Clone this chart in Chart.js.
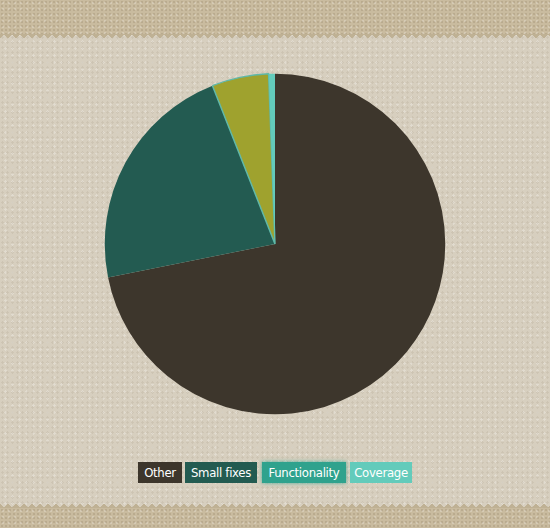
<!DOCTYPE html>
<html><head><meta charset="utf-8">
<script src="https://cdn.jsdelivr.net/npm/chart.js@4.4.0/dist/chart.umd.min.js"></script>
<style>
html,body{margin:0;padding:0;}
body{width:550px;height:528px;overflow:hidden;position:relative;background:#d7cfbf;
 background-image:radial-gradient(rgba(120,100,70,0.10) 1px, transparent 1.2px),radial-gradient(rgba(255,255,255,0.25) 1px, transparent 1.2px);
 background-size:5px 5px,7px 7px;background-position:0 0,2px 3px;}
.band{position:absolute;left:0;width:550px;background:#c9bb9f;
 background-image:radial-gradient(rgba(90,70,40,0.14) 1px, transparent 1.3px),radial-gradient(rgba(255,255,255,0.22) 1px, transparent 1.3px);
 background-size:4px 4px,6px 6px;}
.top{top:0;height:34px;}
.bot{top:508px;height:20px;}
.zig{position:absolute;left:0;width:550px;height:6px;}
.zt{top:34px;background:linear-gradient(135deg,#bfb194 33%,transparent 34%) 0 0/8px 6px,linear-gradient(225deg,#bfb194 33%,transparent 34%) 0 0/8px 6px;}
.zb{top:502px;background:linear-gradient(45deg,#bfb194 33%,transparent 34%) 0 0/8px 6px,linear-gradient(-45deg,#bfb194 33%,transparent 34%) 0 0/8px 6px;}
#wrap{position:absolute;left:104px;top:73px;width:342px;height:342px;}
#legend{position:absolute;top:462px;left:138px;width:280px;display:flex;font-family:"DejaVu Sans Condensed","Liberation Sans",sans-serif;font-size:13px;letter-spacing:-0.3px;}
#legend span{display:block;color:#fff;height:21px;line-height:21px;text-align:center;margin-right:3px;white-space:nowrap;}
</style></head><body>
<div class="band top"></div><div class="zig zt"></div>
<div class="band bot"></div><div class="zig zb"></div>
<div id="wrap"><canvas id="c"></canvas></div>
<div id="legend"></div>
<script>
const categories = ["Other","Small fixes","Functionality","Coverage"];
const values = [120, 37, 9, 1];
const sliceColors = ["#3d362c","#235b51","#9fa22e","#63cbbb"];
const legendColors = ["#3d362c","#235b51","#2fa28d","#63cbbb"];
const borderColors = ["#3d362c","#235b51","#5fb8a8","#63cbbb"];

new Chart(document.getElementById('c'), {
  type: 'pie',
  data: { labels: categories, datasets: [{ data: values, backgroundColor: sliceColors, borderColor: borderColors, borderWidth: [0,0,1.5,0] }] },
  options: { responsive: true, maintainAspectRatio: false, animation: false,
    plugins: { legend: { display: false }, tooltip: { enabled: false } } }
});
const legendWidths = [44, 72, 84, 62];
const gaps = [3, 5, 4, 0];
const lg = document.getElementById('legend');
categories.forEach((c,i)=>{ const s=document.createElement('span'); s.textContent=c; s.style.background=legendColors[i];
  s.style.width=legendWidths[i]+'px'; s.style.marginRight=gaps[i]+'px';
  if(i===2) s.style.boxShadow='0 0 4px rgba(47,162,141,0.8)'; lg.appendChild(s); });
</script>
</body></html>
